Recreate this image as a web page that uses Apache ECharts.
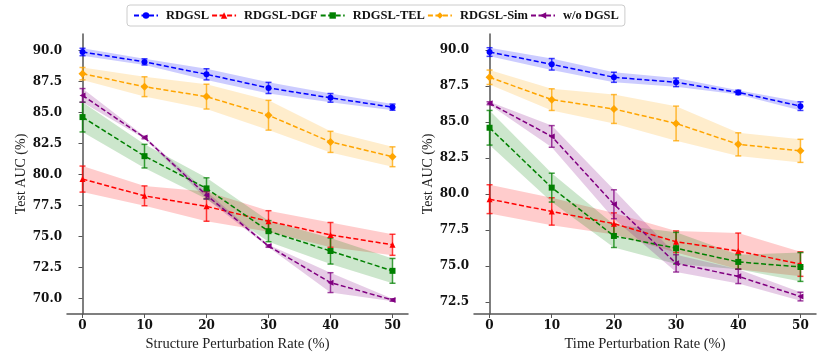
<!DOCTYPE html>
<html>
<head>
<meta charset="utf-8">
<script src="https://cdn.jsdelivr.net/npm/echarts@6/dist/echarts.min.js"></script>
<style>
html, body { margin: 0; padding: 0; background: #fff; }
#chart { width: 830px; height: 363px; }
</style>
</head>
<body>
<div id="chart"></div>
<script>
// perturbation rates (x axis)
var rates = [0, 10, 20, 30, 40, 50];
var names = ['RDGSL', 'RDGSL-DGF', 'RDGSL-TEL', 'RDGSL-Sim', 'w/o DGSL'];
var yTicksLeft = [70, 72.5, 75, 77.5, 80, 82.5, 85, 87.5, 90];
var yTicksRight = [72.5, 75, 77.5, 80, 82.5, 85, 87.5, 90];

// structure perturbation: mean / std
var sRDGSL = [89.9, 89.1, 88.1, 87.0, 86.2, 85.45];
var sRDGSLErr = [0.3, 0.25, 0.45, 0.45, 0.35, 0.25];
var sDGF = [79.65, 78.3, 77.45, 76.25, 75.15, 74.35];
var sDGFErr = [1.05, 0.8, 1.2, 0.85, 1.0, 0.85];
var sTEL = [84.65, 81.5, 78.9, 75.45, 73.85, 72.25];
var sTELErr = [1.2, 0.95, 0.85, 0.85, 1.05, 1.0];
var sSim = [88.15, 87.1, 86.3, 84.8, 82.65, 81.45];
var sSimErr = [0.5, 0.8, 1.0, 1.2, 0.85, 0.8];
var sWo = [86.4, 83.0, 78.35, 74.25, 71.3, 69.9];
var sWoErr = [0.55, 0.1, 0.3, 0.1, 0.8, 0.1];

// time perturbation: mean / std
var tRDGSL = [89.85, 89.0, 88.1, 87.75, 87.05, 86.1];
var tRDGSLErr = [0.3, 0.4, 0.35, 0.3, 0.15, 0.3];
var tDGF = [79.65, 78.8, 77.95, 76.7, 76.05, 75.15];
var tDGFErr = [1.0, 0.95, 0.75, 0.75, 1.25, 0.85];
var tTEL = [84.6, 80.45, 77.1, 76.25, 75.3, 74.95];
var tTELErr = [1.2, 1.0, 0.8, 1.1, 0.5, 1.0];
var tSim = [88.1, 86.55, 85.9, 84.9, 83.45, 83.0];
var tSimErr = [0.5, 0.75, 1.0, 1.2, 0.8, 0.8];
var tWo = [86.3, 84.0, 79.3, 75.2, 74.3, 72.9];
var tWoErr = [0.1, 0.75, 1.0, 0.6, 0.5, 0.3];

var colors = ['#0000ff', '#ff0000', '#008000', '#ffa500', '#800080'];
var symbols = ['circle', 'triangle', 'rect', 'diamond', 'triangle'];
var rotates = [0, 0, 0, 0, 90];
var fontFam = '"Liberation Serif", "DejaVu Serif", serif';
var tickFont = '"DejaVu Serif", serif';

var chart = echarts.init(document.getElementById('chart'));

function bandSeries(ax, k, mean, err) {
    return {
        name: names[k] + ' band' + ax,
        type: 'custom',
        xAxisIndex: ax,
        yAxisIndex: ax,
        silent: true,
        z: 1,
        data: rates.map(function (r, i) { return [r, mean[i] - err[i], mean[i] + err[i]]; }),
        encode: { x: 0, y: [1, 2] },
        renderItem: function (params, api) {
            if (params.dataIndex !== 0) return null;
            var top = [], bot = [];
            for (var i = 0; i < rates.length; i++) {
                top.push(api.coord([rates[i], mean[i] + err[i]]));
                bot.unshift(api.coord([rates[i], mean[i] - err[i]]));
            }
            return {
                type: 'polygon',
                shape: { points: top.concat(bot) },
                style: { fill: colors[k], opacity: 0.2 }
            };
        }
    };
}

function errSeries(ax, k, mean, err) {
    return {
        name: names[k] + ' err' + ax,
        type: 'custom',
        xAxisIndex: ax,
        yAxisIndex: ax,
        silent: true,
        z: 2,
        data: rates.map(function (r, i) { return [r, mean[i] - err[i], mean[i] + err[i]]; }),
        encode: { x: 0, y: [1, 2] },
        renderItem: function (params, api) {
            var x = api.value(0);
            var lo = api.coord([x, api.value(1)]);
            var hi = api.coord([x, api.value(2)]);
            var st = { stroke: colors[k], lineWidth: 1.5, opacity: 0.75 };
            return {
                type: 'group',
                children: [
                    { type: 'line', shape: { x1: lo[0], y1: lo[1], x2: hi[0], y2: hi[1] }, style: st },
                    { type: 'line', shape: { x1: lo[0] - 3, y1: lo[1], x2: lo[0] + 3, y2: lo[1] }, style: st },
                    { type: 'line', shape: { x1: hi[0] - 3, y1: hi[1], x2: hi[0] + 3, y2: hi[1] }, style: st }
                ]
            };
        }
    };
}

function lineSeries(ax, k, mean) {
    return {
        name: names[k],
        type: 'line',
        xAxisIndex: ax,
        yAxisIndex: ax,
        z: 3,
        data: rates.map(function (r, i) { return [r, mean[i]]; }),
        symbol: symbols[k],
        symbolRotate: rotates[k],
        symbolSize: k == 3 ? 8 : 6,
        showAllSymbol: true,
        itemStyle: { color: colors[k] },
        lineStyle: { color: colors[k], width: 1.5, type: [5, 2.5] },
        animation: false
    };
}

var left = [[sRDGSL, sRDGSLErr], [sDGF, sDGFErr], [sTEL, sTELErr], [sSim, sSimErr], [sWo, sWoErr]];
var right = [[tRDGSL, tRDGSLErr], [tDGF, tDGFErr], [tTEL, tTELErr], [tSim, tSimErr], [tWo, tWoErr]];

var series = [];
[left, right].forEach(function (panel, ax) {
    panel.forEach(function (d, k) { series.push(bandSeries(ax, k, d[0], d[1])); });
    panel.forEach(function (d, k) { series.push(errSeries(ax, k, d[0], d[1])); });
});
[left, right].forEach(function (panel, ax) {
    panel.forEach(function (d, k) { series.push(lineSeries(ax, k, d[0])); });
});

function xAxis(idx, title) {
    return {
        type: 'value',
        gridIndex: idx,
        min: -2.5,
        max: 52.5,
        name: title,
        nameLocation: 'middle',
        nameGap: 16,
        nameTextStyle: { fontFamily: fontFam, fontSize: 14.5, color: '#222' },
        splitLine: { show: false },
        axisLine: { lineStyle: { color: '#555', width: 1.5 } },
        axisTick: { customValues: rates, length: 4, lineStyle: { color: '#555' } },
        axisLabel: {
            customValues: rates, margin: 6,
            fontFamily: tickFont, fontWeight: 'bold', fontSize: 12, color: '#111'
        }
    };
}

function yAxis(idx, mn, mx, ticks) {
    return {
        type: 'value',
        gridIndex: idx,
        min: mn,
        max: mx,
        name: 'Test AUC (%)',
        nameLocation: 'middle',
        nameGap: 39,
        nameTextStyle: { fontFamily: fontFam, fontSize: 14, color: '#222' },
        splitLine: { show: false },
        axisLine: { show: true, lineStyle: { color: '#555', width: 1.5 } },
        axisTick: { show: true, customValues: ticks, length: 4, lineStyle: { color: '#555' } },
        axisLabel: {
            customValues: ticks, margin: 5,
            fontFamily: tickFont, fontWeight: 'bold', fontSize: 12, color: '#111',
            formatter: function (v) { return v.toFixed(1); }
        }
    };
}

var option = {
    animation: false,
    backgroundColor: '#fff',
    legend: {
        data: names,
        left: 127,
        top: 5,
        itemWidth: 24,
        itemHeight: 8,
        itemGap: 2,
        padding: [4, 6],
        borderColor: '#ccc',
        borderWidth: 1,
        borderRadius: 3,
        textStyle: { fontFamily: fontFam, fontWeight: 'bold', fontSize: 12.5, color: '#111', padding: [0, 0, 0, 3] }
    },
    grid: [
        { left: 67, top: 34, width: 341, height: 280 },
        { left: 474, top: 34, width: 342, height: 280 }
    ],
    xAxis: [
        xAxis(0, 'Structure Perturbation Rate (%)'),
        xAxis(1, 'Time Perturbation Rate (%)')
    ],
    yAxis: [
        yAxis(0, 68.77, 91.35, yTicksLeft),
        yAxis(1, 71.69, 91.1, yTicksRight)
    ],
    series: series
};

chart.setOption(option);
</script>
</body>
</html>
